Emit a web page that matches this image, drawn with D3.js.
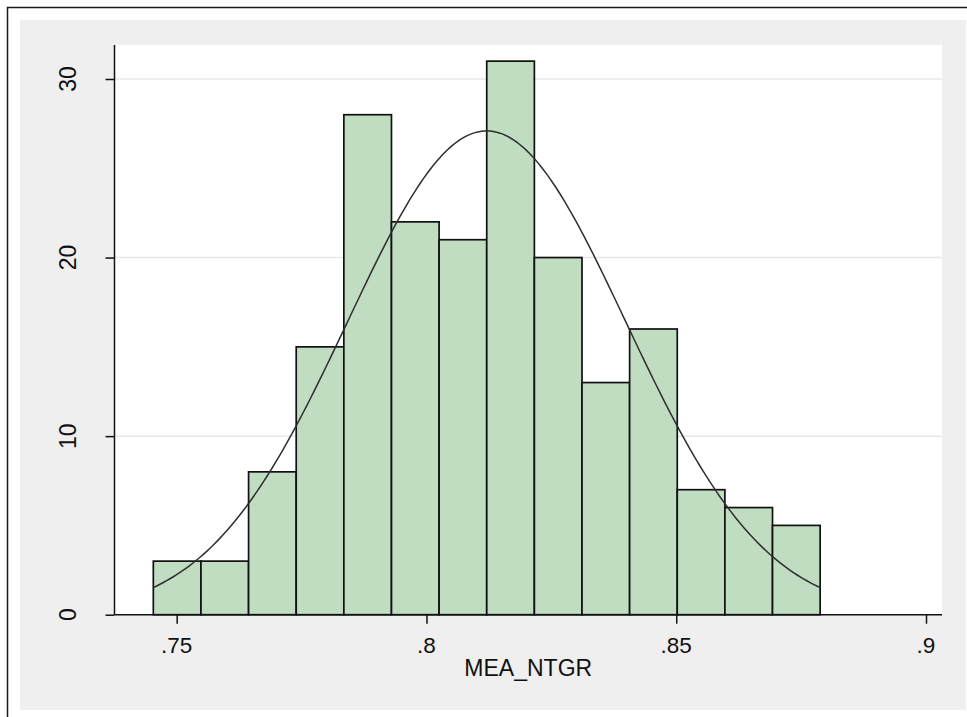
<!DOCTYPE html>
<html>
<head>
<meta charset="utf-8">
<script src="https://cdn.jsdelivr.net/npm/d3@7"></script>
<style>
  body { margin: 0; background: #ffffff; }
  svg { display: block; font-family: "Liberation Sans", Arial, sans-serif; }
</style>
</head>
<body>
<div id="chart"></div>
<script>
// histogram counts per bin
const binCounts = [3, 3, 8, 15, 28, 22, 21, 31, 20, 13, 16, 7, 6, 5];
const binStart = 0.74532;
const binWidth = 0.009535;

// normal overlay parameters
const normMean = 0.81205;
const normSd = 0.0278;
const nObs = 198;

// ticks
const xTicks = [0.75, 0.8, 0.85, 0.9];
const xTickLabels = [".75", ".8", ".85", ".9"];
const yTicks = [0, 10, 20, 30];
const xTitle = "MEA_NTGR";

const width = 967, height = 717;

const svg = d3.select("#chart").append("svg")
    .attr("width", width)
    .attr("height", height);

// outer frame and grey graph region
svg.append("rect")
    .attr("x", 20).attr("y", 20)
    .attr("width", 946).attr("height", 690)
    .attr("fill", "#efefef");

svg.append("path")
    .attr("d", "M7.5,717V7.5H967")
    .attr("fill", "none")
    .attr("stroke", "#1a1a1a")
    .attr("stroke-width", 1.5);

// plot region
const plot = {left: 114.5, right: 942, top: 45, bottom: 614.7};

svg.append("rect")
    .attr("x", plot.left).attr("y", plot.top)
    .attr("width", plot.right - plot.left)
    .attr("height", plot.bottom - plot.top)
    .attr("fill", "#ffffff");

// scales
const x = d3.scaleLinear().domain([0.75, 0.9]).range([176.7, 926]);
const y = d3.scaleLinear().domain([0, 30]).range([plot.bottom, 79]);

// gridlines
svg.append("g").selectAll("line")
    .data(yTicks.filter(d => d > 0))
    .enter().append("line")
    .attr("x1", plot.left).attr("x2", plot.right)
    .attr("y1", d => y(d)).attr("y2", d => y(d))
    .attr("stroke", "#e8e8e8")
    .attr("stroke-width", 1.5);

// bars
const bins = binCounts.map((c, i) => ({
    x0: binStart + i * binWidth,
    x1: binStart + (i + 1) * binWidth,
    count: c
}));

svg.append("g").selectAll("rect")
    .data(bins)
    .enter().append("rect")
    .attr("x", d => x(d.x0))
    .attr("y", d => y(d.count))
    .attr("width", d => x(d.x1) - x(d.x0))
    .attr("height", d => y(0) - y(d.count))
    .attr("fill", "#c0dcc1")
    .attr("stroke", "#111111")
    .attr("stroke-width", 1.7);

// normal density curve scaled to counts
const xMin = binStart, xMax = binStart + binCounts.length * binWidth;
const curvePts = d3.range(0, 201).map(i => {
    const v = xMin + (xMax - xMin) * i / 200;
    const z = (v - normMean) / normSd;
    return [v, nObs * binWidth * Math.exp(-0.5 * z * z) / (normSd * Math.sqrt(2 * Math.PI))];
});

svg.append("path")
    .datum(curvePts)
    .attr("d", d3.line().x(d => x(d[0])).y(d => y(d[1])))
    .attr("fill", "none")
    .attr("stroke", "#2e2e2e")
    .attr("stroke-width", 1.5);

// y axis
const yAxis = svg.append("g")
    .attr("transform", `translate(${plot.left},0)`)
    .call(d3.axisLeft(y).tickValues(yTicks).tickSize(9).tickFormat(""));
yAxis.select(".domain")
    .attr("d", `M0,${plot.top}V${plot.bottom}`)
    .attr("stroke", "#111").attr("stroke-width", 1.5);
yAxis.selectAll(".tick line").attr("stroke", "#111").attr("stroke-width", 1.5);

svg.append("g").selectAll("text")
    .data(yTicks)
    .enter().append("text")
    .attr("transform", d => `translate(76,${y(d)}) rotate(-90)`)
    .attr("text-anchor", "middle")
    .attr("font-size", 23)
    .attr("fill", "#111")
    .text(d => d);

// x axis
const xAxis = svg.append("g")
    .attr("transform", `translate(0,${plot.bottom})`)
    .call(d3.axisBottom(x).tickValues(xTicks).tickSize(9).tickFormat(""));
xAxis.select(".domain")
    .attr("d", `M${plot.left},0H${plot.right}`)
    .attr("stroke", "#111").attr("stroke-width", 1.5);
xAxis.selectAll(".tick line").attr("stroke", "#111").attr("stroke-width", 1.5);

svg.append("g").selectAll("text")
    .data(xTicks)
    .enter().append("text")
    .attr("x", d => x(d))
    .attr("y", 653)
    .attr("text-anchor", "middle")
    .attr("font-size", 22.5)
    .attr("fill", "#111")
    .text((d, i) => xTickLabels[i]);

svg.append("text")
    .attr("x", (plot.left + plot.right) / 2)
    .attr("y", 676)
    .attr("text-anchor", "middle")
    .attr("font-size", 23)
    .attr("fill", "#111")
    .text(xTitle);
</script>
</body>
</html>
